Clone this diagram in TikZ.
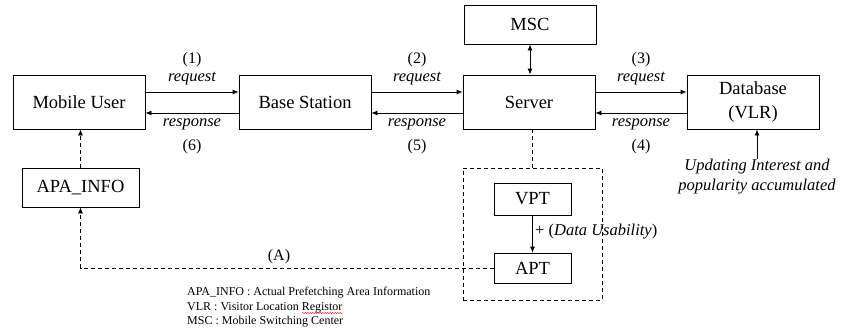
\documentclass[tikz,border=0pt]{standalone}
\usepackage{fontspec}
\setmainfont{Liberation Serif}
\usetikzlibrary{arrows.meta,decorations.pathmorphing}
\begin{document}
\begin{tikzpicture}[x=1pt,y=-1pt,
  box/.style={draw,line width=0.8pt,inner sep=0pt,font=\fontsize{18.5}{24}\selectfont,align=center},
  lbl/.style={font=\fontsize{16.5}{18}\selectfont\itshape,inner sep=0pt},
  num/.style={font=\fontsize{16}{18}\selectfont,inner sep=0pt},
  tip/.style={-{Latex[length=6pt,width=5pt]}},
  arr/.style={line width=0.8pt,tip},
  dsh/.style={line width=0.8pt,dash pattern=on 4pt off 3pt},
]
\useasboundingbox (0,0) rectangle (842,333);
\node[box,minimum width=132pt,minimum height=54pt] (mu) at (79,102) {Mobile User};
\node[box,minimum width=132pt,minimum height=54pt] (bs) at (305,102) {Base Station};
\node[box,minimum width=132pt,minimum height=54pt] (srv) at (529,102) {Server};
\node[box,minimum width=132pt,minimum height=54pt] (db) at (753,102) {Database\\(VLR)};
\node[box,minimum width=132pt,minimum height=39pt] (msc) at (530,24.5) {MSC};
\node[box,minimum width=117pt,minimum height=39pt] (apa) at (80.5,187.5) {APA\_INFO};
\node[box,minimum width=77pt,minimum height=32pt] (vpt) at (532.5,199) {VPT};
\node[box,minimum width=77pt,minimum height=30pt] (apt) at (532.5,268) {APT};
\node[draw,dsh,inner sep=0pt,minimum width=139pt,minimum height=132pt] (cont) at (532.5,234) {};

% request / response
\draw[arr] ([yshift=10pt]mu.east) -- ([yshift=10pt]bs.west);
\draw[arr] ([yshift=-11pt]bs.west) -- ([yshift=-11pt]mu.east);
\draw[arr] ([yshift=10pt]bs.east) -- ([yshift=10pt]srv.west);
\draw[arr] ([yshift=-11pt]srv.west) -- ([yshift=-11pt]bs.east);
\draw[arr] ([yshift=10pt]srv.east) -- ([yshift=10pt]db.west);
\draw[arr] ([yshift=-11pt]db.west) -- ([yshift=-11pt]srv.east);

\node[num] (n1) at (192,60) {(1)};
\node[lbl] (r1) at (192,78.5) {request};
\node[lbl] (s6) at (192,124) {response};
\node[num] (n6) at (192,147) {(6)};
\node[num] (n2) at (417,60) {(2)};
\node[lbl] (r2) at (417,78.5) {request};
\node[lbl] (s5) at (417,124) {response};
\node[num] (n5) at (417,147) {(5)};
\node[num] (n3) at (641,60) {(3)};
\node[lbl] (r3) at (641,78.5) {request};
\node[lbl] (s4) at (641,124) {response};
\node[num] (n4) at (641,147) {(4)};

% MSC <-> Server
\draw[line width=0.8pt,{Latex[length=6pt,width=5pt]}-{Latex[length=6pt,width=5pt]}] (msc.south) -- (msc.south |- srv.north);

% Server - container
\draw[dsh] (cont.north) -- (cont.north |- srv.south);
% VPT -> APT
\draw[arr] (vpt) -- (apt);
\node[num,anchor=west,font=\fontsize{16.5}{18}\selectfont] (du) at (535,232) {+ (\textit{Data Usability})};
% APT -> APA_INFO -> Mobile User
\draw[dsh,tip] (apt.west) -| (apa.south);
\draw[dsh,tip] (apa.north) -- (apa.north |- mu.south);
\node[num] (A) at (279,257) {(A)};

% Updating
\node[lbl,align=center,font=\fontsize{16.5}{20}\selectfont\itshape] (upd) at (757,177) {Updating Interest and\\popularity accumulated};
\draw[arr] (upd.north) -- (upd.north |- db.south);

% legend
\node[anchor=north west,align=left,inner sep=0pt,font=\fontsize{12}{14.5}\selectfont] (leg) at (187,287) {APA\_INFO : Actual Prefetching Area Information\\VLR : Visitor Location Registor\\MSC : Mobile Switching Center};
\draw[red,line width=0.4pt,decorate,decoration={snake,amplitude=0.6pt,segment length=2.5pt}] (302,313) -- (343,313);
\end{tikzpicture}
\end{document}
